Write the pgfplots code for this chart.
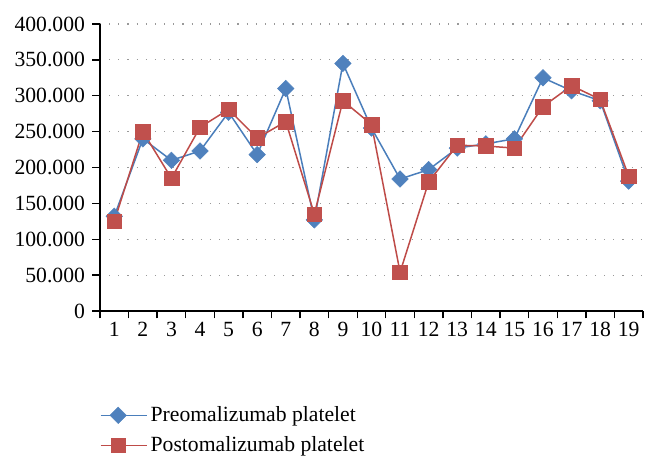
\documentclass[border=0pt]{standalone}
\usepackage{fontspec}
\setmainfont{Liberation Serif}
\usepackage{pgfplots}
\pgfplotsset{compat=1.18}
\definecolor{preblue}{RGB}{74,126,187}
\definecolor{premark}{RGB}{79,129,189}
\definecolor{postred}{RGB}{190,75,72}
\definecolor{postmark}{RGB}{192,80,77}
\begin{document}
\begin{tikzpicture}
\begin{axis}[name=ax, scale only axis, width=325.8pt, height=172.2pt,
  xmin=0.5, xmax=19.5, ymin=0, ymax=400,
  axis x line*=bottom, axis y line*=left,
  axis line style={-, black, line width=0.8pt},
  xtick={0.5,1.5,...,19.5}, xticklabels={},
  extra x ticks={1,2,...,19},
  extra x tick labels={1,2,3,4,5,6,7,8,9,10,11,12,13,14,15,16,17,18,19},
  extra x tick style={major tick length=0pt, tick label style={yshift=-3pt}},
  tick align=outside,
  ytick={0,50,...,400},
  yticklabels={0,50.000,100.000,150.000,200.000,250.000,300.000,350.000,400.000},
  ymajorgrids,
  major grid style={gray!80, line width=0.7pt, dash pattern=on 0.7pt off 4.8pt},
  tick style={black, line width=0.8pt},
  major tick length=4.5pt,
  tick label style={font=\fontsize{13}{15}\selectfont},
  yticklabel style={xshift=-1pt},
  /pgf/number format/assume math mode=true,
  legend cell align=left,
  legend style={at={(-0.01,-0.31)}, anchor=north west, draw=none, fill=none,
    font=\fontsize{13}{15}\selectfont, row sep=4pt,
    nodes={inner sep=1.5pt, text depth=0.2em}},
  legend image code/.code={\draw[mark repeat=2,mark phase=2] plot coordinates {(0cm,0cm) (0.37cm,0cm) (0.74cm,0cm)};
    \path (0.74cm,0) -- (0.74cm+7pt,0);},
]
\addplot[preblue, line width=0.9pt, mark=square*, mark size=3.5pt,
  mark options={fill=premark, draw=premark, line width=0.3pt, rotate=45}]
  coordinates {(1,132) (2,240) (3,210) (4,223) (5,277) (6,218) (7,310) (8,127) (9,345) (10,255)
  (11,184) (12,197) (13,227) (14,233) (15,240) (16,325) (17,307) (18,293) (19,181)};
\addlegendentry{Preomalizumab platelet}
\addplot[postred, line width=0.9pt, mark=square*, mark size=4.4pt,
  mark options={fill=postmark, draw=postmark, line width=0.3pt}]
  coordinates {(1,125) (2,250) (3,185) (4,256) (5,281) (6,241) (7,264) (8,135) (9,293) (10,260)
  (11,54) (12,180) (13,231) (14,230) (15,227) (16,285) (17,314) (18,295) (19,188)};
\addlegendentry{Postomalizumab platelet}
\end{axis}
\pgfresetboundingbox
\path ([shift={(-60pt,-91.8pt)}]ax.south west) rectangle ([shift={(8.4pt,14.4pt)}]ax.north east);
\end{tikzpicture}
\end{document}
